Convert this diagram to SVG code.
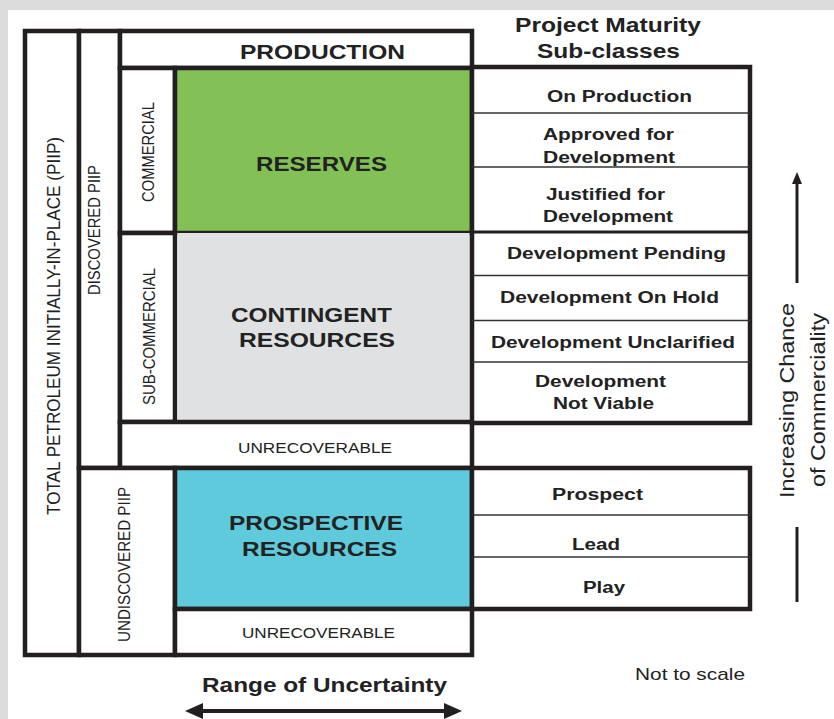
<svg xmlns="http://www.w3.org/2000/svg" width="834" height="719" viewBox="0 0 834 719">
  <style>
    text { font-family: "Liberation Sans", Arial, sans-serif; fill: #222; }
    .b { font-weight: bold; }
    .box { fill: #fff; stroke: #231f20; stroke-width: 4.5; }
    .thin { stroke: #333; stroke-width: 1.5; fill: none; }
    .mid { stroke: #231f20; stroke-width: 3; fill: none; }
    .big { font-size: 21px; font-weight: bold; }
    .row { font-size: 16px; font-weight: bold; }
    .side { font-size: 14.5px; }
    .axis { stroke: #231f20; fill: none; }
  </style>
  <defs>
    <marker id="headUp" markerUnits="userSpaceOnUse" viewBox="0 0 12 10" markerWidth="12" markerHeight="10" refX="0" refY="5" orient="auto">
      <path d="M0,0 L12,5 L0,10 z" fill="#231f20"/>
    </marker>
    <marker id="headSide" markerUnits="userSpaceOnUse" viewBox="0 0 18 16" markerWidth="18" markerHeight="16" refX="0" refY="8" orient="auto-start-reverse">
      <path d="M0,0 L18,8 L0,16 z" fill="#231f20"/>
    </marker>
  </defs>

  <!-- page -->
  <rect x="0" y="0" width="834" height="719" fill="#dcdcdc"/>
  <rect x="8" y="10" width="826" height="709" fill="#fff"/>

  <!-- left-hand classification columns -->
  <g id="piip">
    <rect class="box" x="25" y="31" width="54" height="624"/>
    <text class="side" font-size="16.5" style="font-size:16.5px" transform="translate(59.5,515) rotate(-90) scale(1,1.1)" textLength="378" lengthAdjust="spacingAndGlyphs">TOTAL PETROLEUM INITIALLY-IN-PLACE (PIIP)</text>
  </g>
  <g id="discovered">
    <rect class="box" x="79" y="31" width="41" height="437"/>
    <text class="side" transform="translate(100,295) rotate(-90) scale(1,1.1)" textLength="130" lengthAdjust="spacingAndGlyphs">DISCOVERED PIIP</text>
  </g>
  <g id="production">
    <rect class="box" x="120" y="31" width="352" height="37"/>
    <text class="big" x="240" y="59" textLength="165" lengthAdjust="spacingAndGlyphs">PRODUCTION</text>
  </g>
  <g id="commercial">
    <rect class="box" x="120" y="68" width="55" height="165"/>
    <text class="side" transform="translate(154,202) rotate(-90) scale(1,1.1)" textLength="100" lengthAdjust="spacingAndGlyphs">COMMERCIAL</text>
  </g>
  <g id="sub-commercial">
    <rect class="box" x="120" y="233" width="55" height="189"/>
    <text class="side" transform="translate(155,405) rotate(-90) scale(1,1.1)" textLength="137" lengthAdjust="spacingAndGlyphs">SUB-COMMERCIAL</text>
  </g>

  <!-- resource classes -->
  <g id="reserves">
    <rect class="box" x="175" y="68" width="297" height="165" style="fill:#83c156"/>
    <text class="big" x="256" y="170.5" textLength="131" lengthAdjust="spacingAndGlyphs">RESERVES</text>
  </g>
  <g id="contingent">
    <rect x="177.25" y="233" width="292.5" height="187" fill="#e0e1e3"/>
    <text class="big" x="231" y="321.5" textLength="161" lengthAdjust="spacingAndGlyphs">CONTINGENT</text>
    <text class="big" x="239" y="347" textLength="156" lengthAdjust="spacingAndGlyphs">RESOURCES</text>
  </g>
  <g id="unrecoverable-discovered">
    <rect class="box" x="120" y="422" width="352" height="46"/>
    <text class="side" x="238" y="453" textLength="154" lengthAdjust="spacingAndGlyphs">UNRECOVERABLE</text>
  </g>
  <g id="undiscovered">
    <rect class="box" x="79" y="468" width="96" height="187"/>
    <text class="side" style="font-size:15px" transform="translate(130,642) rotate(-90) scale(1,1.1)" textLength="155" lengthAdjust="spacingAndGlyphs">UNDISCOVERED PIIP</text>
  </g>
  <g id="prospective">
    <rect class="box" x="175" y="468" width="297" height="141" style="fill:#5fcadb"/>
    <text class="big" x="229" y="530" textLength="174" lengthAdjust="spacingAndGlyphs">PROSPECTIVE</text>
    <text class="big" x="242" y="556" textLength="155" lengthAdjust="spacingAndGlyphs">RESOURCES</text>
  </g>
  <g id="unrecoverable-undiscovered">
    <rect class="box" x="175" y="609" width="297" height="46"/>
    <text class="side" x="242" y="637.5" textLength="153" lengthAdjust="spacingAndGlyphs">UNRECOVERABLE</text>
  </g>

  <!-- project maturity sub-classes -->
  <g id="maturity-heading">
    <text class="b" style="font-size:20px" x="515" y="31.5" textLength="186" lengthAdjust="spacingAndGlyphs">Project Maturity</text>
    <text class="b" style="font-size:20px" x="537" y="58" textLength="143" lengthAdjust="spacingAndGlyphs">Sub-classes</text>
  </g>
  <g id="discovered-subclasses">
    <rect class="box" x="472" y="67" width="278" height="356"/>
    <line class="thin" x1="472" y1="113" x2="750" y2="113"/>
    <line class="thin" x1="472" y1="167" x2="750" y2="167"/>
    <line class="mid" x1="472" y1="232" x2="750" y2="232"/>
    <line class="thin" x1="472" y1="275.5" x2="750" y2="275.5"/>
    <line class="thin" x1="472" y1="320.5" x2="750" y2="320.5"/>
    <line class="thin" x1="472" y1="362" x2="750" y2="362"/>
    <text class="row" x="547" y="101.5" textLength="145" lengthAdjust="spacingAndGlyphs">On Production</text>
    <text class="row" x="543" y="140" textLength="131" lengthAdjust="spacingAndGlyphs">Approved for</text>
    <text class="row" x="543" y="163" textLength="132" lengthAdjust="spacingAndGlyphs">Development</text>
    <text class="row" x="546" y="200" textLength="119" lengthAdjust="spacingAndGlyphs">Justified for</text>
    <text class="row" x="543" y="221.5" textLength="130" lengthAdjust="spacingAndGlyphs">Development</text>
    <text class="row" x="507" y="259" textLength="219" lengthAdjust="spacingAndGlyphs">Development Pending</text>
    <text class="row" x="500" y="303" textLength="219" lengthAdjust="spacingAndGlyphs">Development On Hold</text>
    <text class="row" x="491" y="347.5" textLength="244" lengthAdjust="spacingAndGlyphs">Development Unclarified</text>
    <text class="row" x="535" y="386.5" textLength="131" lengthAdjust="spacingAndGlyphs">Development</text>
    <text class="row" x="553" y="409" textLength="101" lengthAdjust="spacingAndGlyphs">Not Viable</text>
  </g>
  <g id="undiscovered-subclasses">
    <rect class="box" x="472" y="468" width="278" height="141"/>
    <line class="thin" x1="472" y1="515" x2="750" y2="515"/>
    <line class="thin" x1="472" y1="557" x2="750" y2="557"/>
    <text class="row" x="552" y="500" textLength="91" lengthAdjust="spacingAndGlyphs">Prospect</text>
    <text class="row" x="572" y="550" textLength="48" lengthAdjust="spacingAndGlyphs">Lead</text>
    <text class="row" x="583" y="593" textLength="42" lengthAdjust="spacingAndGlyphs">Play</text>
  </g>

  <!-- axes -->
  <g id="connectors">
    <line class="axis" stroke-width="3" x1="797" y1="283" x2="797" y2="184" marker-end="url(#headUp)"/>
    <line class="axis" stroke-width="3" x1="797" y1="527" x2="797" y2="602"/>
    <line class="axis" stroke-width="4" x1="203" y1="711" x2="444" y2="711" marker-start="url(#headSide)" marker-end="url(#headSide)"/>
  </g>
  <g id="axis-labels">
    <text style="font-size:21px" transform="translate(794,498) rotate(-90)" textLength="195" lengthAdjust="spacingAndGlyphs">Increasing Chance</text>
    <text style="font-size:21px" transform="translate(825,487) rotate(-90)" textLength="174" lengthAdjust="spacingAndGlyphs">of Commerciality</text>
    <text class="b" style="font-size:20px" x="202" y="691.5" textLength="245" lengthAdjust="spacingAndGlyphs">Range of Uncertainty</text>
    <text style="font-size:17px" x="635" y="680" textLength="110" lengthAdjust="spacingAndGlyphs">Not to scale</text>
  </g>
</svg>
